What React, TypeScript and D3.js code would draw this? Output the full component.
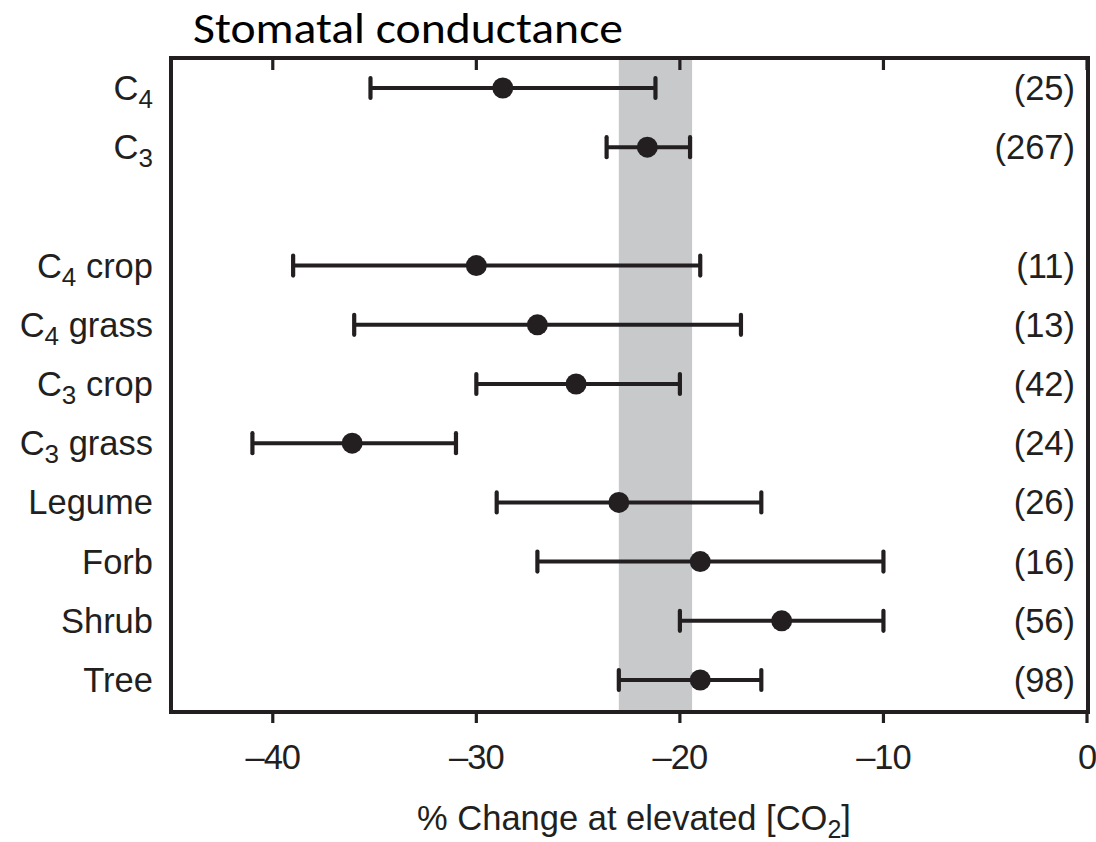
import React from "react";
import * as d3 from "d3";

const categories = ["C4", "C3", "", "C4 crop", "C4 grass", "C3 crop", "C3 grass", "Legume", "Forb", "Shrub", "Tree"];
const means = [-28.7, -21.6, NaN, -30.0, -27.0, -25.1, -36.1, -23.0, -19.0, -15.0, -19.0];
const lows = [-35.2, -23.6, NaN, -39.0, -36.0, -30.0, -41.0, -29.0, -27.0, -20.0, -23.0];
const highs = [-21.2, -19.5, NaN, -19.0, -17.0, -20.0, -31.0, -16.0, -10.0, -10.0, -16.0];
const counts = ["(25)", "(267)", "", "(11)", "(13)", "(42)", "(24)", "(26)", "(16)", "(56)", "(98)"];
const xTicks = [-40, -30, -20, -10, 0];
const band = [-23.0, -19.4];

const INK = "#231f20";
const FONT = "Liberation Sans, Arial, Helvetica, sans-serif";
const FS = 34.5;

function Label({ text, x, y }: { text: string; x: number; y: number }) {
  const m = text.match(/^C(\d)(.*)$/);
  if (!m) {
    return (
      <text x={x} y={y} textAnchor="end" fontSize={FS} fill={INK} fontFamily={FONT}>
        {text}
      </text>
    );
  }
  return (
    <text x={x} y={y} textAnchor="end" fontSize={FS} fill={INK} fontFamily={FONT}>
      C
      <tspan fontSize={26} dy={8}>{m[1]}</tspan>
      {m[2] ? <tspan dy={-8}>{m[2]}</tspan> : null}
    </text>
  );
}

export default function App() {
  const W = 1096;
  const H = 842;
  const left = 171;
  const right = 1088;
  const top = 58;
  const bottom = 712;
  const x = d3.scaleLinear().domain([-45, 0]).range([left, right - 1]);
  const y = d3.scaleLinear().domain([0, categories.length - 1]).range([88, 680]);

  return (
    <svg width={W} height={H} style={{ position: "absolute", left: 0, top: 0, background: "#fff" }}>
      <rect x={0} y={0} width={W} height={H} fill="#fff" />
      <text
        x={193}
        y={43}
        fontSize={44}
        fill="#000"
        fontFamily="Carlito, Calibri, Lato, sans-serif"
        textLength={430}
        lengthAdjust="spacingAndGlyphs"
      >
        Stomatal conductance
      </text>
      {/* shaded band */}
      <rect
        x={x(band[0])}
        y={top}
        width={x(band[1]) - x(band[0])}
        height={bottom - top}
        fill="#c8c9cb"
      />
      {/* error bars */}
      {categories.map((c, i) => {
        if (!c) return null;
        const cy = y(i);
        return (
          <g key={c}>
            <line x1={x(lows[i])} x2={x(highs[i])} y1={cy} y2={cy} stroke={INK} strokeWidth={4} />
            <line x1={x(lows[i])} x2={x(lows[i])} y1={cy - 10} y2={cy + 10} stroke={INK} strokeWidth={4.2} strokeLinecap="round" />
            <line x1={x(highs[i])} x2={x(highs[i])} y1={cy - 10} y2={cy + 10} stroke={INK} strokeWidth={4.2} strokeLinecap="round" />
            <circle cx={x(means[i])} cy={cy} r={10.5} fill={INK} />
            <Label text={c} x={153} y={cy + 12} />
            <text x={1075} y={cy + 12} textAnchor="end" fontSize={FS} fill={INK} fontFamily={FONT}>
              {counts[i]}
            </text>
          </g>
        );
      })}
      {/* frame */}
      <rect x={left} y={top} width={right - left} height={bottom - top} fill="none" stroke={INK} strokeWidth={4} />
      {/* ticks */}
      {xTicks.map((t) => (
        <g key={t}>
          <line x1={x(t)} x2={x(t)} y1={top} y2={top + 12} stroke={INK} strokeWidth={3.2} />
          <line x1={x(t)} x2={x(t)} y1={bottom} y2={bottom + 11} stroke={INK} strokeWidth={3.2} />
          <text x={x(t)} y={769} textAnchor="middle" fontSize={FS} fill={INK} fontFamily={FONT} letterSpacing={-1}>
            {t < 0 ? "\u2013" + Math.abs(t) : String(t)}
          </text>
        </g>
      ))}
      <text x={634} y={830} textAnchor="middle" fontSize={FS} fill={INK} fontFamily={FONT}>
        % Change at elevated [CO
        <tspan fontSize={25} dy={8}>2</tspan>
        <tspan dy={-8}>]</tspan>
      </text>
    </svg>
  );
}
